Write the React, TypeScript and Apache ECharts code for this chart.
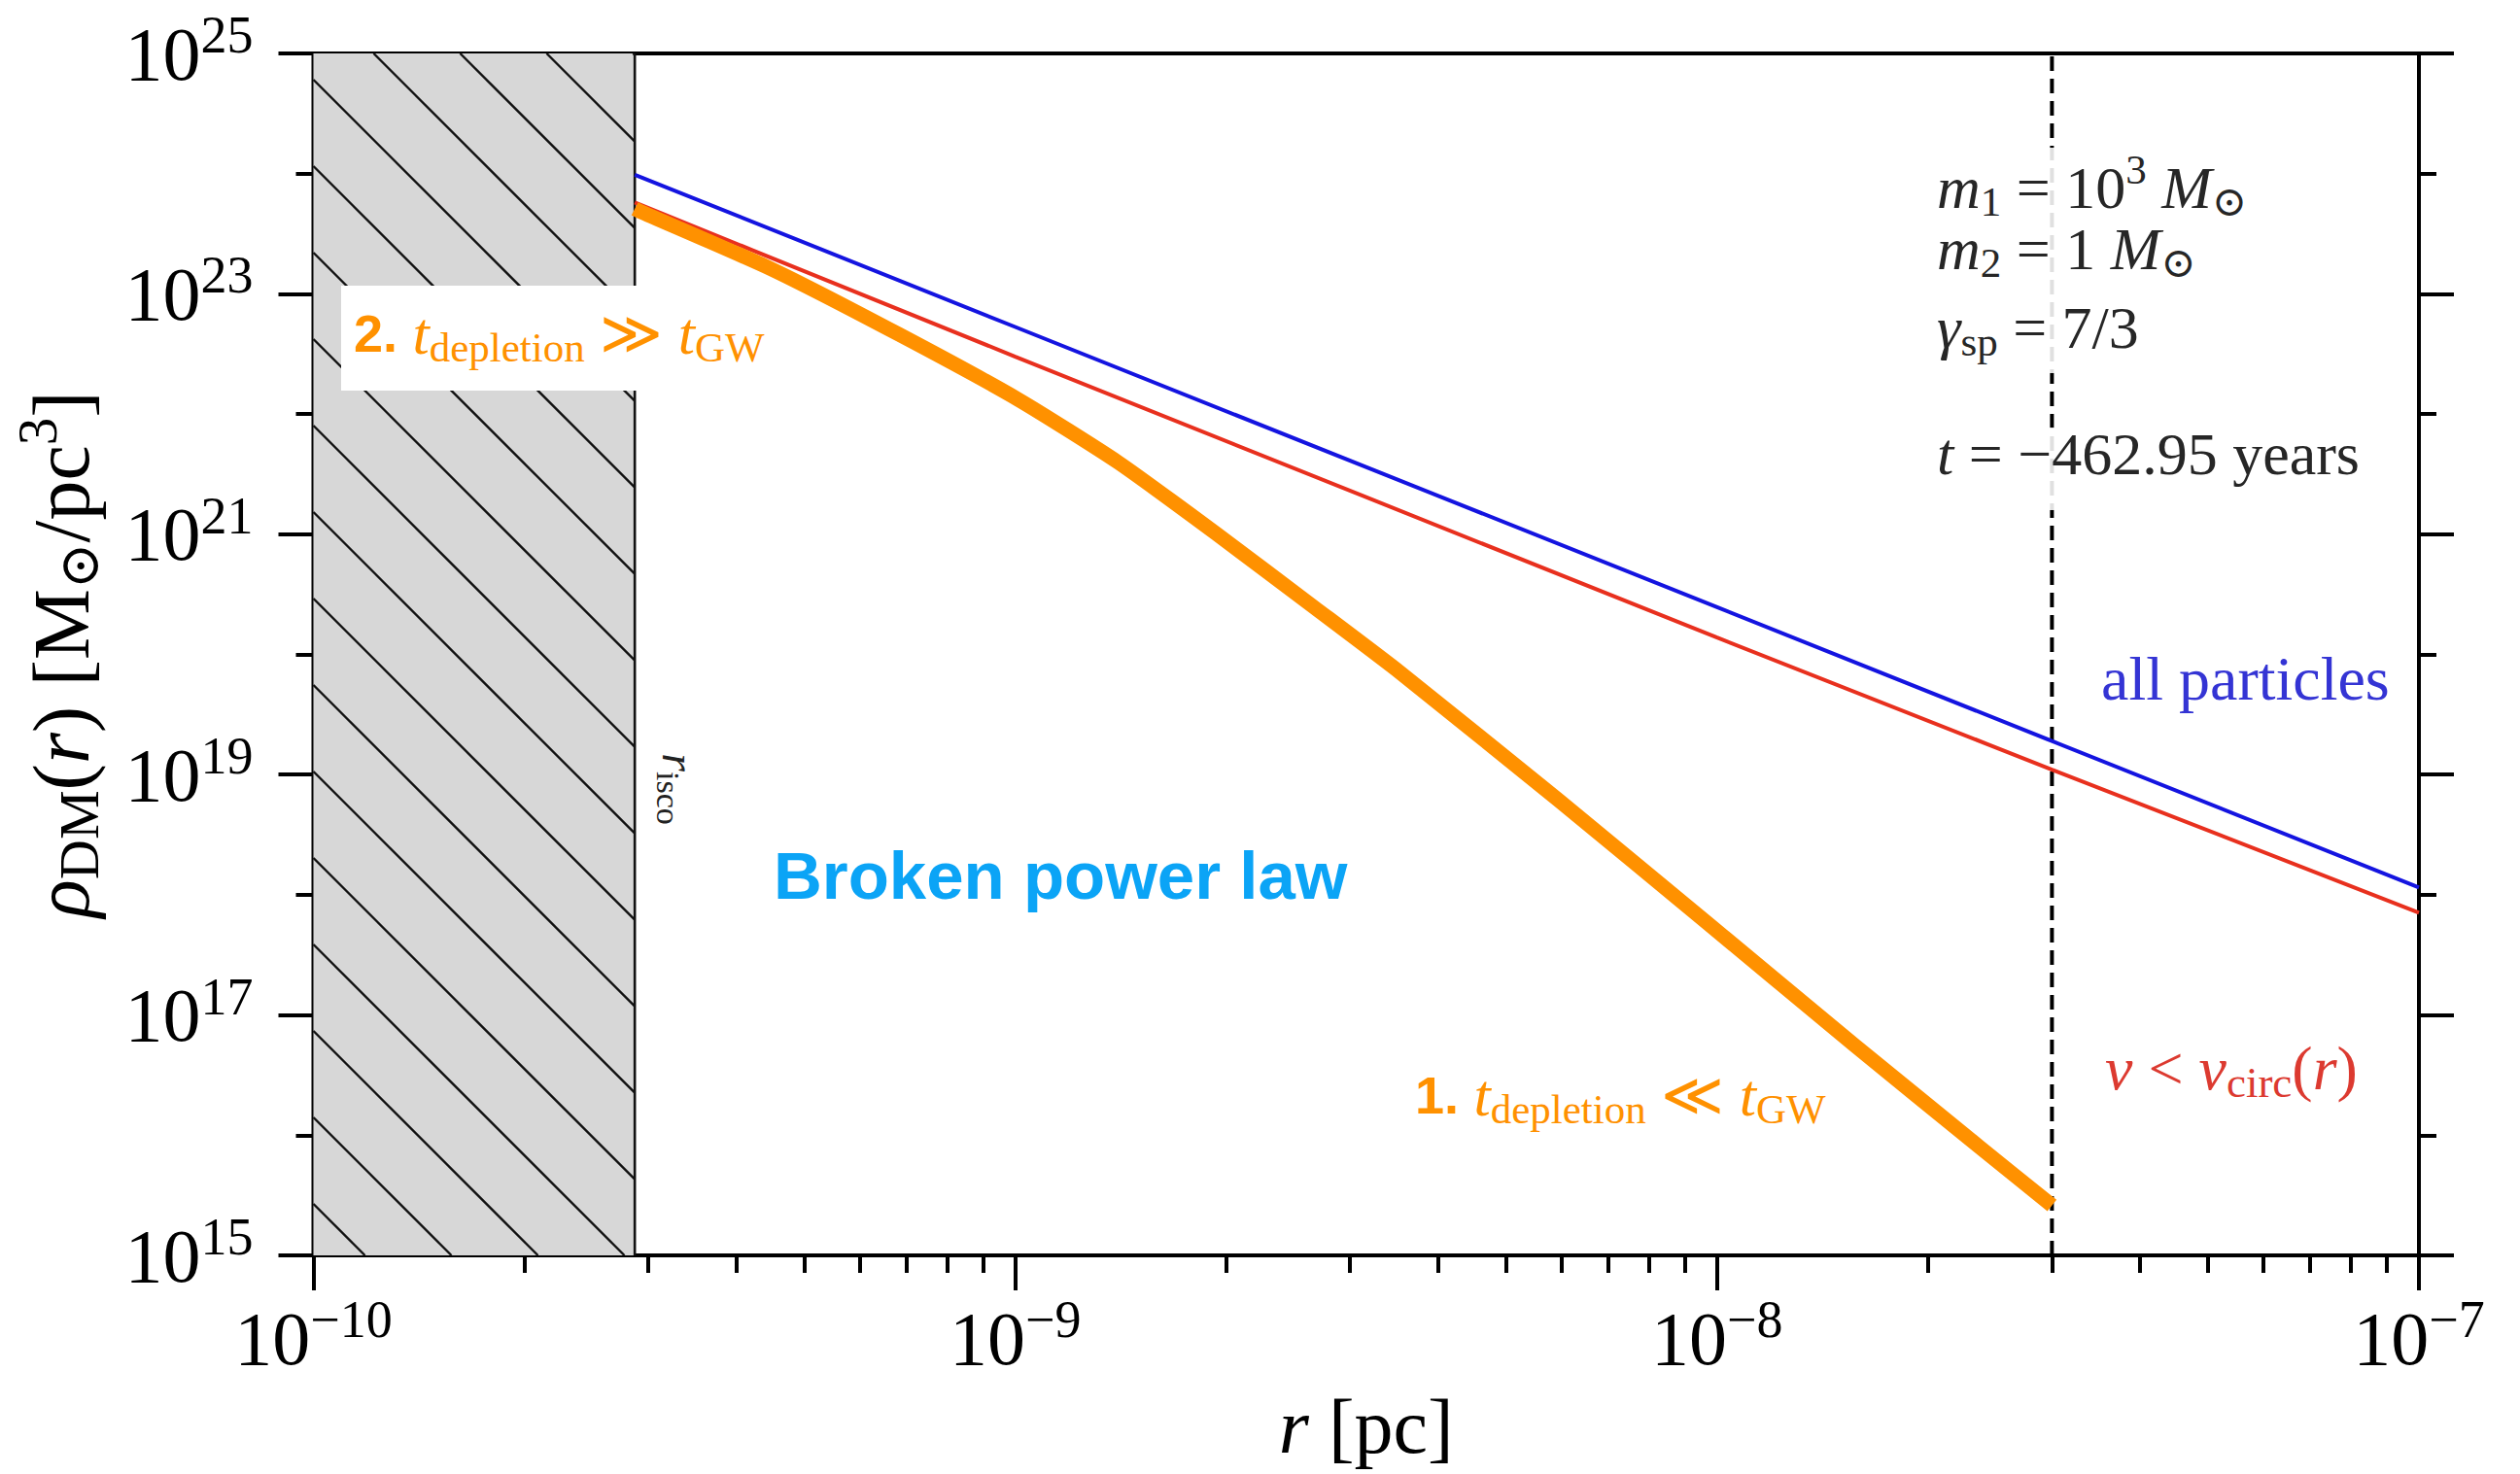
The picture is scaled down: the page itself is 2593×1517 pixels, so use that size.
import React, { useEffect, useRef } from 'react';
import * as echarts from 'echarts';

// ---- axis ranges & ticks ----
const X_MIN = 1e-10;
const X_MAX = 1e-7;
const Y_MIN = 1e15;
const Y_MAX = 1e25;
const R_ISCO = 2.87e-10;
const R_CUT = 3e-8;

const xMajorTicks = [1e-10, 1e-9, 1e-8, 1e-7];
const xMinorTicks = [
  2e-10, 3e-10, 4e-10, 5e-10, 6e-10, 7e-10, 8e-10, 9e-10,
  2e-9, 3e-9, 4e-9, 5e-9, 6e-9, 7e-9, 8e-9, 9e-9,
  2e-8, 3e-8, 4e-8, 5e-8, 6e-8, 7e-8, 8e-8, 9e-8,
];
const yMajorTicks = [1e15, 1e17, 1e19, 1e21, 1e23, 1e25];
const yMinorTicks = [1e16, 1e18, 1e20, 1e22, 1e24];

// ---- series (r in pc, rho in Msun/pc^3) ----
const rAll = [2.87e-10, 1e-9, 1e-8, 3e-8, 1e-7];
const rhoAll = [9.8e23, 5.3e22, 2.47e20, 1.9e19, 1.15e18];

const rCirc = [2.87e-10, 1e-9, 1e-8, 3e-8, 1e-7];
const rhoCirc = [5.75e23, 3.0e22, 1.38e20, 1.1e19, 7.1e17];

const rDepleted = [2.87e-10, 2.91e-10, 4.48e-10, 6.84e-10, 1.01e-9, 1.4e-9, 1.93e-9, 2.67e-9, 3.52e-9, 5.93e-9, 9.66e-9, 1.57e-8, 2.37e-8, 3e-8];
const rhoDepleted = [5.1e23, 4.9e23, 1.62e23, 4.57e22, 1.32e22, 3.98e21, 1.02e21, 2.45e20, 7.2e19, 6.2e18, 5.9e17, 5.6e16, 7.9e15, 2.6e15];

const SERIF = '"Liberation Serif", "DejaVu Serif", serif';
const SANS = '"Liberation Sans", Arial, sans-serif';

function mathRich(size: number, color: string) {
  const small = Math.round(size * 0.7);
  const lh = Math.round(size * 1.3);
  return {
    n: { fontFamily: SERIF, fontSize: size, color, fill: color, lineHeight: lh },
    i: { fontFamily: SERIF, fontStyle: 'italic', fontSize: size, color, fill: color, lineHeight: lh },
    sub: { fontFamily: SERIF, fontSize: small, color, fill: color, lineHeight: lh, padding: [Math.round(size * 0.45), 0, 0, 0] },
    sup: { fontFamily: SERIF, fontSize: small, color, fill: color, lineHeight: lh, padding: [0, 0, Math.round(size * 0.6), 0] },
    b: { fontFamily: SANS, fontWeight: 'bold', fontSize: Math.round(size * 0.87), color, fill: color, lineHeight: lh },
  };
}

const tickLabelRich = {
  b: { fontFamily: SERIF, fontSize: 78, color: '#000', lineHeight: 90 },
  s: { fontFamily: SERIF, fontSize: 54, color: '#000', lineHeight: 90, padding: [0, 0, 38, 0] },
};

const pairs = (xs: number[], ys: number[]) => xs.map((x, i) => [x, ys[i]]);

function mathText(x: number, y: number, text: string, size: number, color: string, extra: any = {}) {
  return {
    type: 'text',
    x,
    y,
    z: 100,
    silent: true,
    ...extra,
    style: {
      text,
      rich: mathRich(size, color),
      fill: color,
      fontSize: size,
      fontFamily: SERIF,
      align: extra.align || 'left',
      textAlign: extra.align || 'left',
      verticalAlign: 'middle',
      textVerticalAlign: 'middle',
    },
  };
}

export default function App() {
  const ref = useRef<HTMLDivElement>(null);

  useEffect(() => {
    document.body.style.margin = '0';
    const chart = echarts.init(ref.current!, null, { renderer: 'svg' });

    const axisTickStyle = { color: '#000', width: 4 };

    const option: any = {
      animation: false,
      backgroundColor: '#fff',
      grid: {
        left: 322.5,
        right: 104,
        top: 55,
        bottom: 225,
        show: true,
        borderColor: '#000',
        borderWidth: 4,
        backgroundColor: 'transparent',
      },
      xAxis: [
        {
          type: 'log',
          logBase: 10,
          min: X_MIN,
          max: X_MAX,
          position: 'bottom',
          axisLine: { show: false },
          splitLine: { show: false },
          axisTick: { show: true, customValues: xMajorTicks, length: 36, lineStyle: axisTickStyle },
          axisLabel: {
            show: true,
            customValues: xMajorTicks,
            margin: 40,
            formatter: (v: number) => `{b|10}{s|−${Math.round(-Math.log10(v))}}`,
            rich: tickLabelRich,
          },
          name: '{i|r}{n| [pc]}',
          nameLocation: 'middle',
          nameGap: 119,
          nameTextStyle: { color: '#000', rich: mathRich(80, '#000') },
        },
        {
          type: 'log',
          logBase: 10,
          min: X_MIN,
          max: X_MAX,
          position: 'bottom',
          axisLine: { show: false },
          splitLine: { show: false },
          axisLabel: { show: false },
          axisTick: { show: true, customValues: xMinorTicks, length: 18, lineStyle: axisTickStyle },
        },
      ],
      yAxis: [
        {
          type: 'log',
          logBase: 10,
          min: Y_MIN,
          max: Y_MAX,
          position: 'left',
          axisLine: { show: false },
          splitLine: { show: false },
          axisTick: { show: true, customValues: yMajorTicks, length: 36, lineStyle: axisTickStyle },
          axisLabel: {
            show: true,
            customValues: yMajorTicks,
            margin: 62,
            formatter: (v: number) => `{b|10}{s|${Math.round(Math.log10(v))}}`,
            rich: tickLabelRich,
          },
          name: '{i|ρ}{sub|DM}{n|(}{i|r}{n|) [M}{sub|⊙}{n|/pc}{sup|3}{n|]}',
          nameLocation: 'middle',
          nameGap: 206,
          nameRotate: 90,
          nameTextStyle: { color: '#000', rich: mathRich(82, '#000') },
        },
        {
          type: 'log', logBase: 10, min: Y_MIN, max: Y_MAX, position: 'left',
          axisLine: { show: false }, splitLine: { show: false }, axisLabel: { show: false },
          axisTick: { show: true, customValues: yMinorTicks, length: 18, lineStyle: axisTickStyle },
        },
        {
          type: 'log', logBase: 10, min: Y_MIN, max: Y_MAX, position: 'right',
          axisLine: { show: false }, splitLine: { show: false }, axisLabel: { show: false },
          axisTick: { show: true, customValues: yMajorTicks, length: 36, lineStyle: axisTickStyle },
        },
        {
          type: 'log', logBase: 10, min: Y_MIN, max: Y_MAX, position: 'right',
          axisLine: { show: false }, splitLine: { show: false }, axisLabel: { show: false },
          axisTick: { show: true, customValues: yMinorTicks, length: 18, lineStyle: axisTickStyle },
        },
      ],
      series: [
        {
          type: 'custom',
          name: 'inside ISCO',
          coordinateSystem: 'cartesian2d',
          xAxisIndex: 0,
          yAxisIndex: 0,
          z: 1,
          silent: true,
          data: [[R_ISCO, Y_MIN]],
          renderItem: (_params: any, api: any) => {
            const p0 = api.coord([X_MIN, Y_MAX]);
            const p1 = api.coord([R_ISCO, Y_MIN]);
            const x0 = p0[0], y0 = p0[1], x1 = p1[0], y1 = p1[1];
            const children: any[] = [
              { type: 'rect', shape: { x: x0, y: y0, width: x1 - x0, height: y1 - y0 }, style: { fill: '#d7d7d7' } },
            ];
            const step = 89;
            const off = 27;
            for (let k = -10; k < 20; k++) {
              const c = y0 + off + k * step;
              const xs = Math.max(x0, x0 + (y0 - c));
              const xe = Math.min(x1, x0 + (y1 - c));
              if (xe > xs) {
                children.push({
                  type: 'line',
                  shape: { x1: xs, y1: c + xs - x0, x2: xe, y2: c + xe - x0 },
                  style: { stroke: '#111', lineWidth: 2.4 },
                });
              }
            }
            children.push({ type: 'line', shape: { x1, y1: y0, x2: x1, y2: y1 }, style: { stroke: '#111', lineWidth: 2.6 } });
            return { type: 'group', children };
          },
        },
        {
          type: 'line',
          name: 'r_cut',
          data: [[R_CUT, Y_MIN], [R_CUT, Y_MAX]],
          symbol: 'none',
          z: 2,
          lineStyle: { color: '#000', width: 4, type: [15, 8] },
        },
        {
          type: 'line',
          name: 'all particles',
          data: pairs(rAll, rhoAll),
          symbol: 'none',
          z: 3,
          lineStyle: { color: '#1414e0', width: 4 },
        },
        {
          type: 'line',
          name: 'v < v_circ(r)',
          data: pairs(rCirc, rhoCirc),
          symbol: 'none',
          z: 3,
          lineStyle: { color: '#e8301e', width: 4 },
        },
        {
          type: 'line',
          name: 'depleted',
          data: pairs(rDepleted, rhoDepleted),
          symbol: 'none',
          smooth: 0.2,
          z: 4,
          lineStyle: { color: '#ff9100', width: 15, join: 'round' },
        },
      ],
      graphic: [
        { type: 'rect', z: 90, silent: true, shape: { x: 351, y: 294, width: 305, height: 108 }, style: { fill: '#ffffff' } },
        { type: 'rect', z: 90, silent: true, shape: { x: 1985, y: 152, width: 470, height: 232 }, style: { fill: 'rgba(255,255,255,0.88)' } },
        { type: 'rect', z: 90, silent: true, shape: { x: 1985, y: 440, width: 470, height: 85 }, style: { fill: 'rgba(255,255,255,0.88)' } },
        mathText(1993, 193, '{i|m}{sub|1}{n| = 10}{sup|3}{n| }{i|M}{sub|⊙}', 62, '#262626'),
        mathText(1993, 256, '{i|m}{sub|2}{n| = 1 }{i|M}{sub|⊙}', 62, '#262626'),
        mathText(1993, 337, '{i|γ}{sub|sp}{n| = 7/3}', 62, '#262626'),
        mathText(1993, 467, '{i|t}{n| = −462.95 years}', 62, '#262626'),
        mathText(2162, 698, '{n|all particles}', 64, '#3434d4'),
        mathText(2166, 1099, '{i|v}{n| < }{i|v}{sub|circ}{n|(}{i|r}{n|)}', 64, '#dc3a30'),
        mathText(698, 812, '{i|r}{sub|isco}', 48, '#222', { rotation: -Math.PI / 2, align: 'center' }),
        mathText(364, 343, '{b|2.}{n| }{i|t}{sub|depletion}{n| ≫ }{i|t}{sub|GW}', 62, '#ff9100'),
        mathText(1456, 1127, '{b|1.}{n| }{i|t}{sub|depletion}{n| ≪ }{i|t}{sub|GW}', 62, '#ff9100'),
        {
          type: 'text',
          x: 796,
          y: 901,
          z: 100,
          silent: true,
          style: {
            text: 'Broken power law',
            fontFamily: SANS,
            fontWeight: 'bold',
            fontSize: 69,
            fill: '#0ba4f6',
            align: 'left',
            verticalAlign: 'middle',
            textAlign: 'left',
            textVerticalAlign: 'middle',
          },
        },
      ],
    };

    chart.setOption(option);
    return () => chart.dispose();
  }, []);

  return (
    <div
      ref={ref}
      style={{ position: 'absolute', left: 0, top: 0, width: 2593, height: 1517, background: '#fff' }}
    />
  );
}
